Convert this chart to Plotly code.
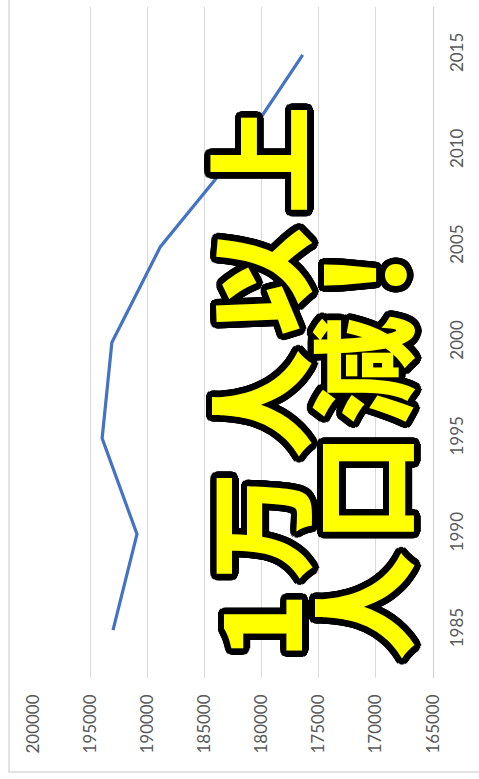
import plotly.graph_objects as go
import math

years = [1985, 1990, 1995, 2000, 2005, 2010, 2015]
population = [193000, 190900, 193950, 193100, 188850, 182000, 176400]
value_ticks = [200000, 195000, 190000, 185000, 180000, 175000, 170000, 165000]
year_ticks = [1985, 1990, 1995, 2000, 2005, 2010, 2015]
line1 = "1万人以上"
line2 = "人口減！"

W, H = 479, 779
L, R, T, B = 33, 46, 7, 101

fig = go.Figure()
fig.add_trace(go.Scatter(
    x=population, y=years, mode="lines",
    line=dict(color="#4472C4", width=3.2),
    hoverinfo="skip", showlegend=False,
))

tick_font = dict(family="Lato, Open Sans, sans-serif", size=17, color="#595959")

fig.update_layout(
    width=W, height=H,
    margin=dict(l=L, r=R, t=T, b=B, pad=0),
    paper_bgcolor="white", plot_bgcolor="white",
    showlegend=False,
    xaxis=dict(
        range=[200000, 165000], tickvals=value_ticks,
        ticktext=[str(v) for v in value_ticks],
        tickangle=-90, showgrid=True, gridcolor="#d9d9d9", gridwidth=1.3,
        zeroline=False, showline=False, ticks="",
        tickfont=tick_font, ticklabelstandoff=12,
    ),
    yaxis=dict(
        range=[1982.5, 2017.5], tickvals=year_ticks,
        ticktext=[str(v) for v in year_ticks],
        side="right", tickangle=-90, showgrid=False, zeroline=False,
        showline=True, linecolor="#d0d0d0", linewidth=1.3, ticks="",
        tickfont=tick_font, ticklabelstandoff=8,
    ),
)

pw = W - L - R
ph = H - T - B
def px_x(p):
    return (p - L) / pw
def px_y(p):
    return (H - B - p) / ph

# outer chart border
fig.add_shape(type="rect", xref="paper", yref="paper",
              x0=px_x(9), x1=px_x(520), y0=px_y(772), y1=px_y(-20),
              line=dict(color="#d9d9d9", width=1.5), fillcolor="rgba(0,0,0,0)")

# outlined big text
r = 6.5
offs = []
for k in range(32):
    a = 2 * math.pi * k / 32
    offs.append(f"{r*math.cos(a):.1f}px {r*math.sin(a):.1f}px 0 #000")
shadow = ", ".join(offs)

big_font = dict(family="Noto Sans CJK JP", size=108, color="#FFFF00",
                weight=900, shadow=shadow)

def place_line(txt, cx, bottom, pitch, narrow):
    pos = bottom
    for ch in txt:
        w = narrow if (ch.isascii() or ch == "！") else pitch
        cy = pos - w / 2
        fig.add_annotation(
            text=ch, xref="paper", yref="paper",
            x=px_x(cx), y=px_y(cy), xanchor="center", yanchor="middle",
            textangle=-90, showarrow=False, font=big_font,
        )
        pos -= w

place_line(line1, 255, 665, 122, 78)
place_line(line2, 358, 665, 118, 72)

fig.write_html("out.html", config={"displayModeBar": False},
               post_script="document.body.style.margin='0px';")
